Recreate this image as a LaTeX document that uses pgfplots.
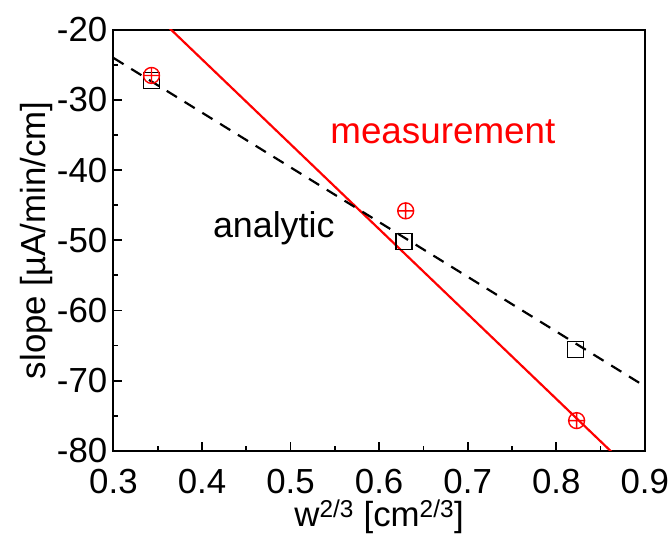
\documentclass[border=0pt]{standalone}
\usepackage{pgfplots}
\pgfplotsset{compat=1.18}
\usepackage{fontspec}
\setmainfont{Liberation Sans}
\begin{document}
\begin{tikzpicture}[font=\fontsize{35bp}{40bp}\selectfont]
\begin{axis}[
  name=ax,
  scale only axis, width=534bp, height=423bp,
  xmin=0.3, xmax=0.9, ymin=-80, ymax=-20,
  xtick={0.3,0.4,...,0.9}, ytick={-80,-70,...,-20},
  minor x tick num=1, minor y tick num=1,
  tick align=inside, tick pos=left,
  major tick length=9bp, minor tick length=5bp,
  every tick/.style={black, line width=1.8pt},
  axis line style={line width=2pt},
  /pgf/number format/assume math mode=true,
  xticklabel style={inner sep=1bp, yshift=-17bp, /pgf/number format/.cd, fixed, fixed zerofill, precision=1},
  yticklabel style={inner sep=1bp, xshift=-5bp},
  tick label style={font=\fontsize{35bp}{40bp}\selectfont},
  label style={font=\fontsize{35bp}{40bp}\selectfont},
  xlabel={w\textsuperscript{2/3} [cm\textsuperscript{2/3}]},
  ylabel={slope [µA/min/cm]},
  xlabel style={yshift=-2bp},
  clip=true,
]
\addplot[red, line width=2.2pt] coordinates {(0.3,-12.1) (0.9,-84.7)};
\addplot[black, line width=2.2pt, dash pattern=on 12bp off 9bp] coordinates {(0.3,-24.0) (0.9,-70.8)};
\addplot[only marks, mark=square, mark size=8bp, black, line width=1.4pt] coordinates {(0.343,-27.2) (0.628,-50.2) (0.822,-65.6)};
\addplot[only marks, mark=oplus, mark size=8bp, red, line width=1.4pt] coordinates {(0.343,-26.5) (0.630,-45.8) (0.823,-75.7)};
\node[red, anchor=center, font=\fontsize{37bp}{40bp}\selectfont] at (axis cs:0.672,-34.6) {measurement};
\node[black, anchor=center, font=\fontsize{36bp}{40bp}\selectfont] at (axis cs:0.481,-48.3) {analytic};
\end{axis}
\path ([shift={(-114bp,-97bp)}]ax.south west) ([shift={(22bp,30bp)}]ax.north east);
\end{tikzpicture}
\end{document}
